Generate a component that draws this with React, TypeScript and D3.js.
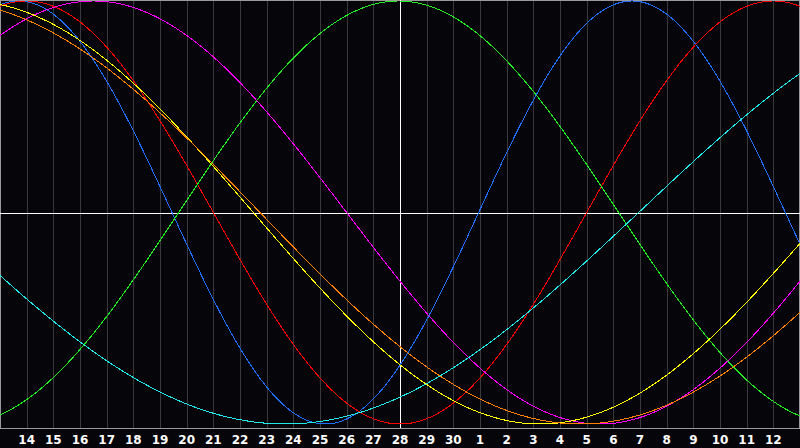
import React from 'react';
import * as d3 from 'd3';

// day labels under the grid lines (14 Sep .. 12 Oct)
const dayLabels = [
  '14', '15', '16', '17', '18', '19', '20', '21', '22', '23', '24', '25', '26', '27', '28',
  '29', '30', '1', '2', '3', '4', '5', '6', '7', '8', '9', '10', '11', '12',
];

// biorhythm cycles: period in days, and day (from left edge) of a peak
const cycleNames = ['physical', 'emotional', 'intellectual', 'intuitive', 'aesthetic', 'awareness', 'spiritual'];
const cyclePeriods = [23, 28, 33, 38, 43, 48, 53];
const cyclePeaks = [0.7, 1.0, 14.95, 3.5, -1.25, -2.25, -15.8];
const cycleColors = ['#1e6eff', '#ff0000', '#22ee22', '#ff00ff', '#ffff00', '#ff8000', '#22e8e8'];

const todayIndex = 15; // "28"
const totalDays = 30;

const W = 800;
const H = 448;
const plotBottom = 428;

export default function App() {
  const x = d3.scaleLinear().domain([0, totalDays]).range([0, W]);
  const y = d3.scaleLinear().domain([-1, 1]).range([424, 1]);

  const samples = d3.range(0, totalDays + 0.001, 0.05);
  const line = d3
    .line<number>()
    .x((t) => x(t))
    .y((t) => y(0));

  const paths = cycleNames.map((name, i) => {
    const P = cyclePeriods[i];
    const peak = cyclePeaks[i];
    const gen = line.y((t) => y(Math.cos((2 * Math.PI * (t - peak)) / P)));
    return { name, color: cycleColors[i], d: gen(samples) as string };
  });

  const gridDays = d3.range(1, totalDays);

  return (
    <svg
      width={W}
      height={H}
      style={{ position: 'absolute', left: 0, top: 0, display: 'block', background: '#060509' }}
    >
      <rect x={0} y={0} width={W} height={H} fill="#060509" />
      {gridDays.map((k) => (
        <line
          key={k}
          x1={Math.round(x(k)) + 0.5}
          x2={Math.round(x(k)) + 0.5}
          y1={0}
          y2={plotBottom}
          stroke="#3a3a3c"
          strokeWidth={1}
          shapeRendering="crispEdges"
        />
      ))}
      <rect
        x={0.5}
        y={0.5}
        width={W - 1}
        height={plotBottom}
        fill="none"
        stroke="#9a9a9a"
        strokeWidth={1}
        shapeRendering="crispEdges"
      />
      <line
        x1={0}
        x2={W}
        y1={Math.round(y(0)) + 0.5}
        y2={Math.round(y(0)) + 0.5}
        stroke="#ffffff"
        strokeWidth={1}
        shapeRendering="crispEdges"
      />
      <line
        x1={Math.round(x(todayIndex)) + 0.5}
        x2={Math.round(x(todayIndex)) + 0.5}
        y1={0}
        y2={plotBottom}
        stroke="#ffffff"
        strokeWidth={1}
        shapeRendering="crispEdges"
      />
      {paths.map((p) => (
        <path key={p.name} d={p.d} fill="none" stroke={p.color} strokeWidth={1} shapeRendering="crispEdges" />
      ))}
      {gridDays.map((k, i) => (
        <text
          key={'t' + k}
          x={x(k)}
          y={443.5}
          textAnchor="middle"
          fill="#ffffff"
          fontFamily="DejaVu Sans"
          fontWeight="bold"
          fontSize={12}
        >
          {dayLabels[i]}
        </text>
      ))}
    </svg>
  );
}
